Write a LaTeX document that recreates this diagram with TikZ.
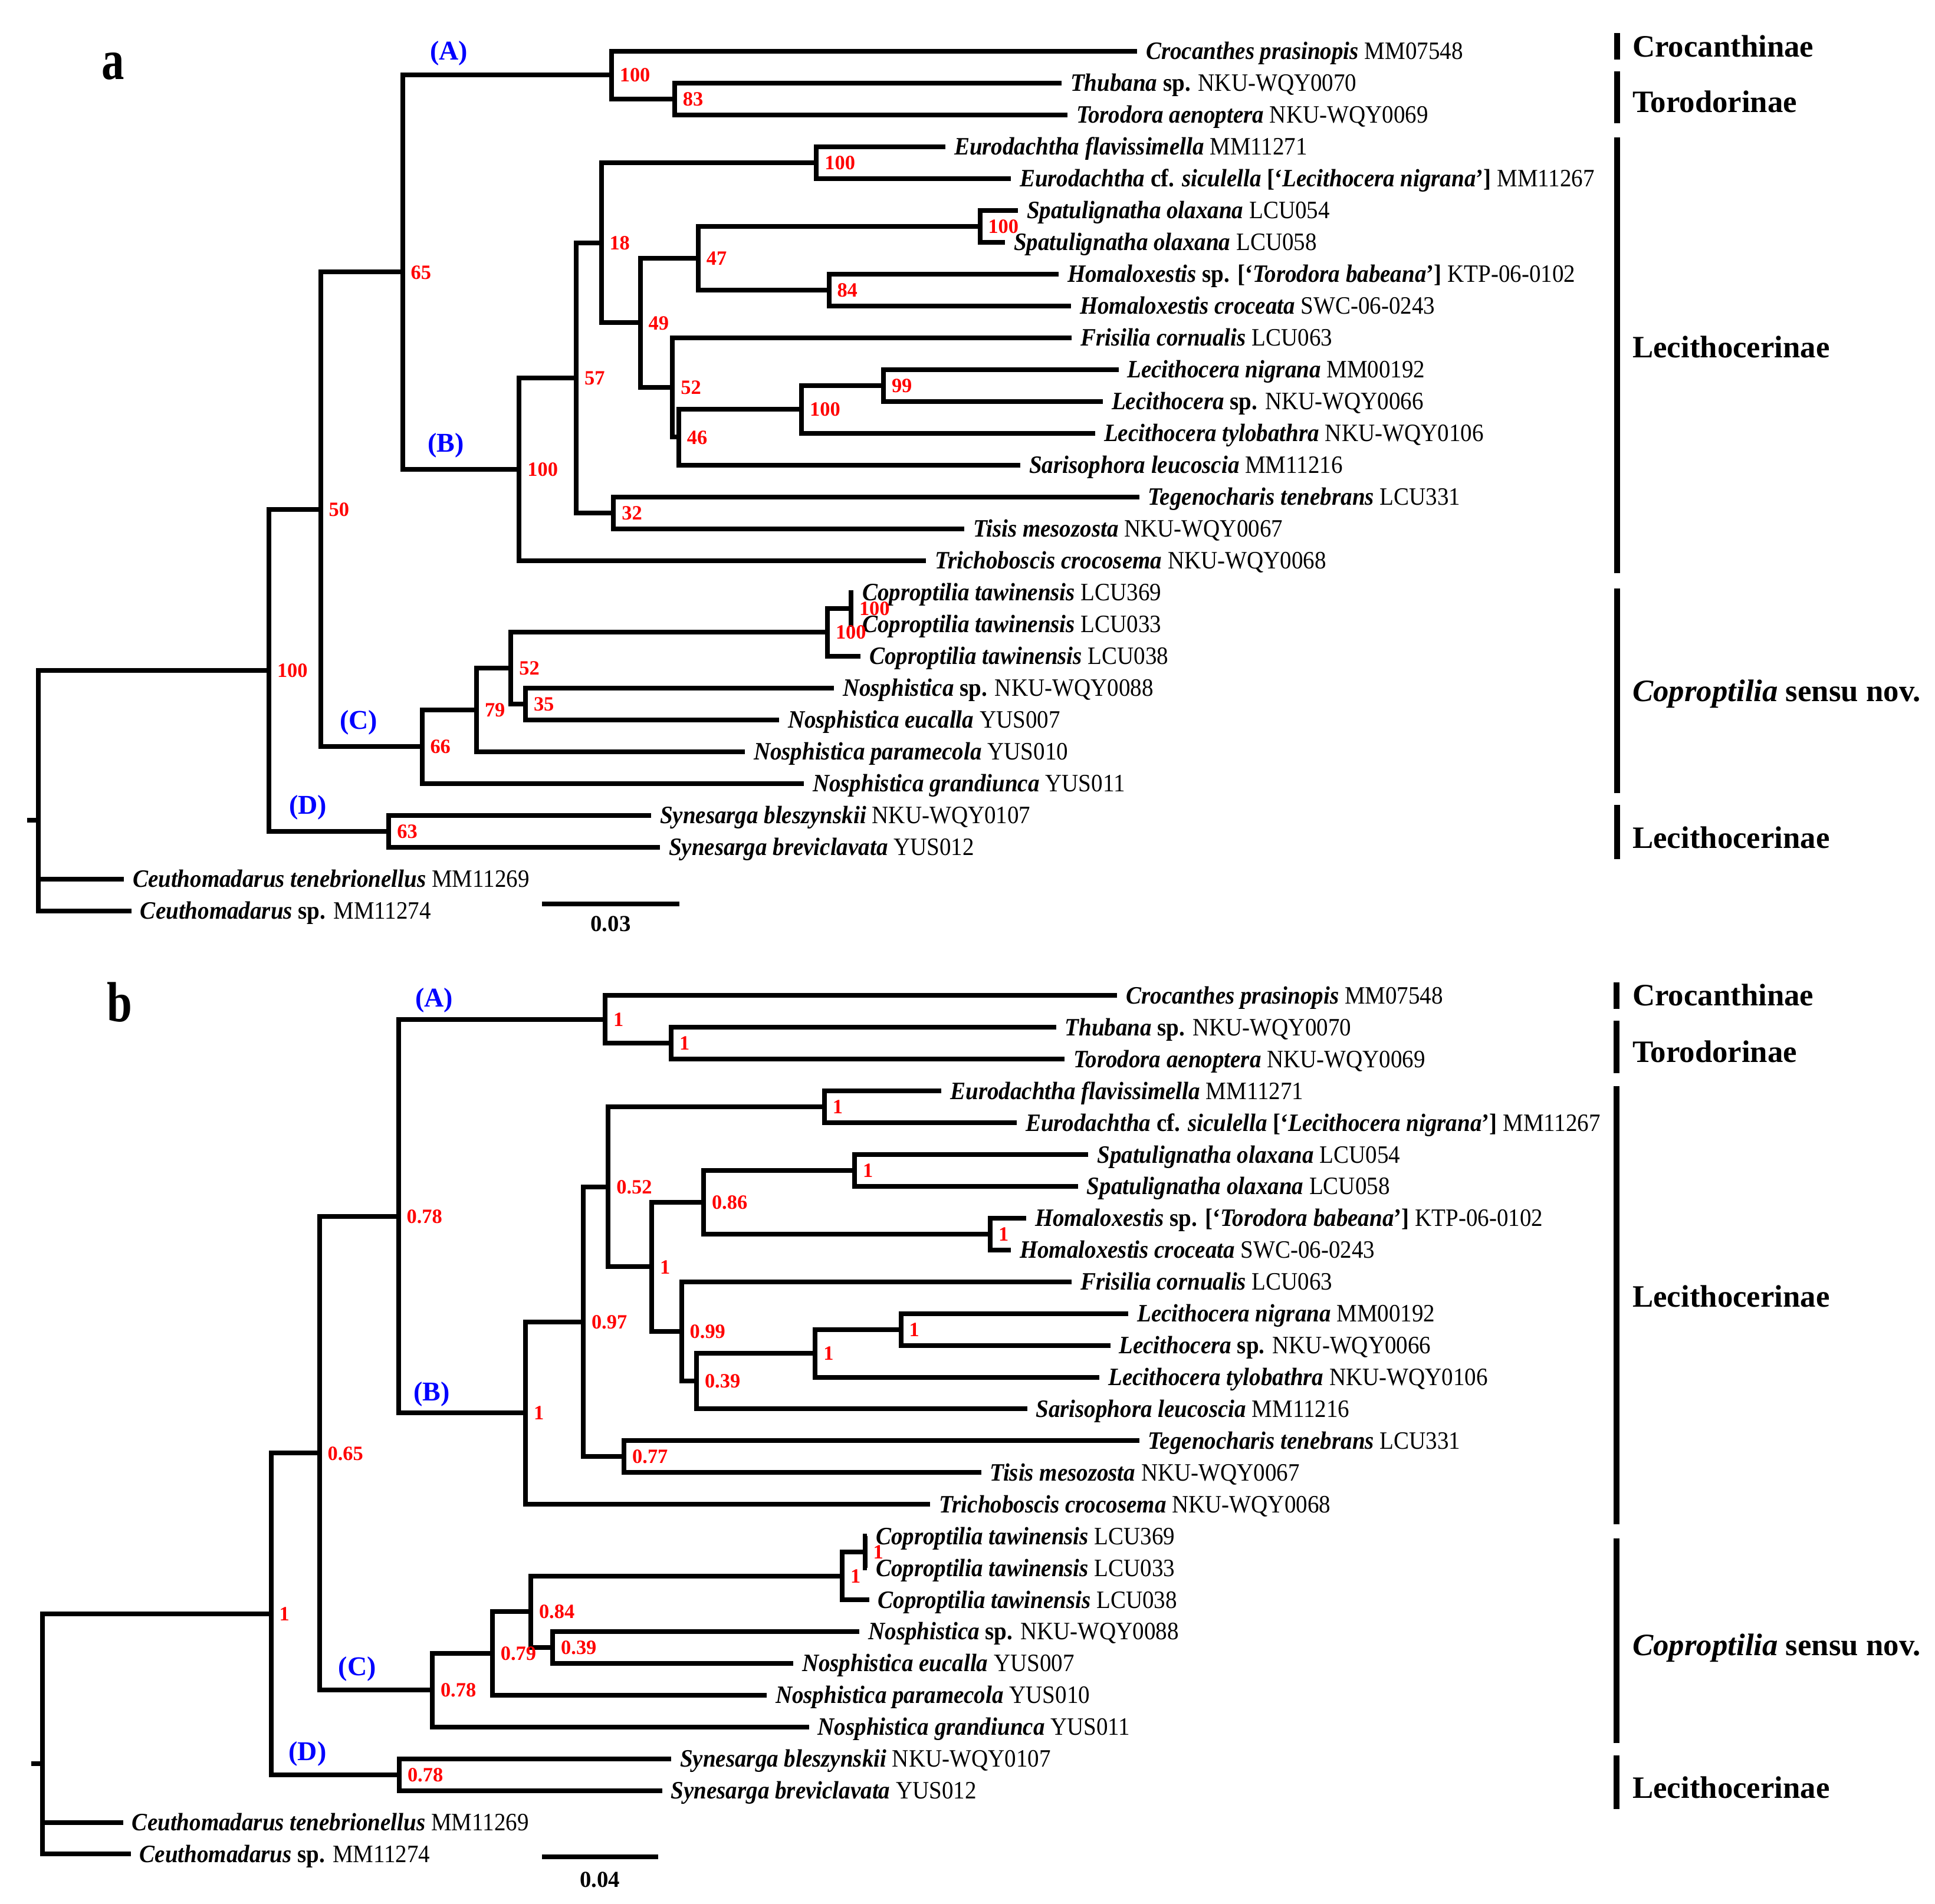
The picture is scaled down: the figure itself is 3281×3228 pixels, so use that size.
\documentclass[tikz,border=0pt]{standalone}
\usepackage{fontspec}
\setmainfont{Liberation Serif}
\newfontfamily\tallserif{Liberation Serif}[Ligatures=TeX, FakeStretch=0.92]
\newfontfamily\panelserif{Liberation Serif}[Ligatures=TeX, FakeStretch=0.8]
\usetikzlibrary{positioning}
\newcommand{\labelgap}{3.75pt}
\newcommand{\supportgap}{3.5pt}
\tikzstyle{branch}=[draw, line width=2pt, line join=miter]
\tikzstyle{taxon}=[inner sep=0, outer sep=0, text height=7pt, text depth=0pt,
                   font=\fontsize{10.6}{12}\tallserif\bfseries]
\tikzstyle{support}=[inner sep=0, outer sep=0, text height=5.8pt, text depth=0pt,
                     text=red, font=\fontsize{8.6}{10}\selectfont\bfseries]
\tikzstyle{clade}=[inner sep=0, text=blue, font=\fontsize{11.5}{13}\selectfont\bfseries]
\tikzstyle{group}=[inner sep=0, anchor=base west, font=\fontsize{13.2}{15}\selectfont\bfseries]
\tikzstyle{groupbar}=[draw, line width=2.6pt]
\tikzstyle{panel}=[inner sep=0, anchor=base west, font=\fontsize{24}{26}\panelserif\bfseries]
\tikzstyle{scalebar}=[draw, line width=2pt]
\tikzstyle{scalelabel}=[inner sep=0, anchor=base, font=\fontsize{9.7}{11}\selectfont\bfseries]

% Same topology in both panels; #1 is the panel prefix.
\newcommand{\treebranches}[1]{%
  \draw[branch] (#1Thub) -| (#1Tor) |- (#1Toro);
  \draw[branch] (#1Croc) -| (#1Acl) |- (#1Tor);
  \draw[branch] (#1Eufl) -| (#1Eur) |- (#1Eusi);
  \draw[branch] (#1Spa1) -| (#1Spa) |- (#1Spa2);
  \draw[branch] (#1Hosp) -| (#1Hom) |- (#1Hocr);
  \draw[branch] (#1Spa) -| (#1Hsp) |- (#1Hom);
  \draw[branch] (#1Leni) -| (#1Lpair) |- (#1Lesp);
  \draw[branch] (#1Lpair) -| (#1Lcl) |- (#1Lety);
  \draw[branch] (#1Lcl) -| (#1Lsub) |- (#1Sari);
  \draw[branch] (#1Fris) -| (#1Lec) |- (#1Lsub);
  \draw[branch] (#1Hsp) -| (#1Bmid) |- (#1Lec);
  \draw[branch] (#1Eur) -| (#1Bsub) |- (#1Bmid);
  \draw[branch] (#1Tege) -| (#1Teg) |- (#1Tisi);
  \draw[branch] (#1Bsub) -| (#1Bin) |- (#1Teg);
  \draw[branch] (#1Bin) -| (#1Bcl) |- (#1Tric);
  \draw[branch] (#1Acl) -| (#1AB) |- (#1Bcl);
  \draw[branch] (#1Cop1) -| (#1Cpair) |- (#1Cop2);
  \draw[branch] (#1Cpair) -| (#1Cop) |- (#1Cop3);
  \draw[branch] (#1Nosp) -| (#1Nos) |- (#1Euca);
  \draw[branch] (#1Cop) -| (#1Cmid) |- (#1Nos);
  \draw[branch] (#1Cmid) -| (#1Cin) |- (#1Para);
  \draw[branch] (#1Cin) -| (#1Ccl) |- (#1Gran);
  \draw[branch] (#1AB) -| (#1ABC) |- (#1Ccl);
  \draw[branch] (#1Bles) -| (#1Dcl) |- (#1Brev);
  \draw[branch] (#1ABC) -| (#1Ingr) |- (#1Dcl);
  \draw[branch] (#1Ingr) -| (#1Root) |- (#1Csp);
  \draw[branch] (#1Root) |- (#1Cten);
  \draw[branch] (#1Tick) -- (#1Root);
}

\newcommand{\taxonlabels}[1]{%
  \node[taxon, right=\labelgap of #1Croc] (#1CrocL) {\textit{Crocanthes prasinopis} \textmd{MM07548}};
  \node[taxon, right=\labelgap of #1Thub] (#1ThubL) {\textit{Thubana} sp. \textmd{NKU-WQY0070}};
  \node[taxon, right=\labelgap of #1Toro] (#1ToroL) {\textit{Torodora aenoptera} \textmd{NKU-WQY0069}};
  \node[taxon, right=\labelgap of #1Eufl] (#1EuflL) {\textit{Eurodachtha flavissimella} \textmd{MM11271}};
  \node[taxon, right=\labelgap of #1Eusi] (#1EusiL) {\textit{Eurodachtha} cf. \textit{siculella} [`\textit{Lecithocera nigrana}'] \textmd{MM11267}};
  \node[taxon, right=\labelgap of #1Spa1] (#1Spa1L) {\textit{Spatulignatha olaxana} \textmd{LCU054}};
  \node[taxon, right=\labelgap of #1Spa2] (#1Spa2L) {\textit{Spatulignatha olaxana} \textmd{LCU058}};
  \node[taxon, right=\labelgap of #1Hosp] (#1HospL) {\textit{Homaloxestis} sp. [`\textit{Torodora babeana}'] \textmd{KTP-06-0102}};
  \node[taxon, right=\labelgap of #1Hocr] (#1HocrL) {\textit{Homaloxestis croceata} \textmd{SWC-06-0243}};
  \node[taxon, right=\labelgap of #1Fris] (#1FrisL) {\textit{Frisilia cornualis} \textmd{LCU063}};
  \node[taxon, right=\labelgap of #1Leni] (#1LeniL) {\textit{Lecithocera nigrana} \textmd{MM00192}};
  \node[taxon, right=\labelgap of #1Lesp] (#1LespL) {\textit{Lecithocera} sp. \textmd{NKU-WQY0066}};
  \node[taxon, right=\labelgap of #1Lety] (#1LetyL) {\textit{Lecithocera tylobathra} \textmd{NKU-WQY0106}};
  \node[taxon, right=\labelgap of #1Sari] (#1SariL) {\textit{Sarisophora leucoscia} \textmd{MM11216}};
  \node[taxon, right=\labelgap of #1Tege] (#1TegeL) {\textit{Tegenocharis tenebrans} \textmd{LCU331}};
  \node[taxon, right=\labelgap of #1Tisi] (#1TisiL) {\textit{Tisis mesozosta} \textmd{NKU-WQY0067}};
  \node[taxon, right=\labelgap of #1Tric] (#1TricL) {\textit{Trichoboscis crocosema} \textmd{NKU-WQY0068}};
  \node[taxon, right=\labelgap of #1Cop1] (#1Cop1L) {\textit{Coproptilia tawinensis} \textmd{LCU369}};
  \node[taxon, right=\labelgap of #1Cop2] (#1Cop2L) {\textit{Coproptilia tawinensis} \textmd{LCU033}};
  \node[taxon, right=\labelgap of #1Cop3] (#1Cop3L) {\textit{Coproptilia tawinensis} \textmd{LCU038}};
  \node[taxon, right=\labelgap of #1Nosp] (#1NospL) {\textit{Nosphistica} sp. \textmd{NKU-WQY0088}};
  \node[taxon, right=\labelgap of #1Euca] (#1EucaL) {\textit{Nosphistica eucalla} \textmd{YUS007}};
  \node[taxon, right=\labelgap of #1Para] (#1ParaL) {\textit{Nosphistica paramecola} \textmd{YUS010}};
  \node[taxon, right=\labelgap of #1Gran] (#1GranL) {\textit{Nosphistica grandiunca} \textmd{YUS011}};
  \node[taxon, right=\labelgap of #1Bles] (#1BlesL) {\textit{Synesarga bleszynskii} \textmd{NKU-WQY0107}};
  \node[taxon, right=\labelgap of #1Brev] (#1BrevL) {\textit{Synesarga breviclavata} \textmd{YUS012}};
  \node[taxon, right=\labelgap of #1Cten] (#1CtenL) {\textit{Ceuthomadarus tenebrionellus} \textmd{MM11269}};
  \node[taxon, right=\labelgap of #1Csp] (#1CspL) {\textit{Ceuthomadarus} sp. \textmd{MM11274}};
}

\begin{document}
\begin{tikzpicture}[x=0.25pt, y=-0.25pt]
  \useasboundingbox[fill=white] (0,0) rectangle (3281,3228);

  % panel a, tips
  \coordinate (aCroc) at (1928, 86.7);
  \coordinate (aThub) at (1800, 140.7);
  \coordinate (aToro) at (1810, 194.7);
  \coordinate (aEufl) at (1603, 248.7);
  \coordinate (aEusi) at (1714, 302.7);
  \coordinate (aSpa1) at (1726, 356.7);
  \coordinate (aSpa2) at (1704, 410.7);
  \coordinate (aHosp) at (1795, 464.7);
  \coordinate (aHocr) at (1816, 518.7);
  \coordinate (aFris) at (1817, 572.7);
  \coordinate (aLeni) at (1896.5, 626.7);
  \coordinate (aLesp) at (1870, 680.7);
  \coordinate (aLety) at (1857, 734.7);
  \coordinate (aSari) at (1730, 788.7);
  \coordinate (aTege) at (1931.6, 842.7);
  \coordinate (aTisi) at (1635, 896.7);
  \coordinate (aTric) at (1570, 950.7);
  \coordinate (aCop1) at (1447, 1004.7);
  \coordinate (aCop2) at (1447, 1058.7);
  \coordinate (aCop3) at (1459, 1112.7);
  \coordinate (aNosp) at (1414, 1166.7);
  \coordinate (aEuca) at (1321, 1220.7);
  \coordinate (aPara) at (1263, 1274.7);
  \coordinate (aGran) at (1363, 1328.7);
  \coordinate (aBles) at (1104, 1382.7);
  \coordinate (aBrev) at (1119, 1436.7);
  \coordinate (aCten) at (210, 1490.7);
  \coordinate (aCsp) at (223, 1544.7);
  % panel a, inner nodes
  \coordinate (aTor) at (1143.8, 167.7);
  \coordinate (aAcl) at (1036.8, 127.2);
  \coordinate (aEur) at (1384.4, 275.7);
  \coordinate (aSpa) at (1661.5, 383.7);
  \coordinate (aHom) at (1405.5, 491.7);
  \coordinate (aHsp) at (1183.8, 437.7);
  \coordinate (aLpair) at (1498, 653.7);
  \coordinate (aLcl) at (1359.2, 694.2);
  \coordinate (aLsub) at (1150.8, 741.45);
  \coordinate (aLec) at (1140.3, 657.1);
  \coordinate (aBmid) at (1085.6, 547.4);
  \coordinate (aBsub) at (1019.5, 411.55);
  \coordinate (aTeg) at (1040.4, 869.7);
  \coordinate (aBin) at (977.2, 640.6);
  \coordinate (aBcl) at (880.4, 795.65);
  \coordinate (aAB) at (682.6, 461.4);
  \coordinate (aCpair) at (1443, 1031.7);
  \coordinate (aCop) at (1403, 1072.2);
  \coordinate (aNos) at (891, 1193.7);
  \coordinate (aCmid) at (866.4, 1132.95);
  \coordinate (aCin) at (808, 1203.8);
  \coordinate (aCcl) at (715.5, 1266.25);
  \coordinate (aABC) at (543.7, 863.8);
  \coordinate (aDcl) at (659.4, 1409.7);
  \coordinate (aIngr) at (456, 1136.75);
  \coordinate (aRoot) at (64.5, 1390.7);
  \coordinate (aTick) at (45.6, 1390.7);

  % panel b, tips
  \coordinate (bCroc) at (1894.4, 1688.3);
  \coordinate (bThub) at (1790.6, 1742.2);
  \coordinate (bToro) at (1805.3, 1796.2);
  \coordinate (bEufl) at (1596.3, 1850.1);
  \coordinate (bEusi) at (1724, 1904.0);
  \coordinate (bSpa1) at (1845.3, 1958.0);
  \coordinate (bSpa2) at (1827.8, 2011.9);
  \coordinate (bHosp) at (1740, 2065.8);
  \coordinate (bHocr) at (1714, 2119.7);
  \coordinate (bFris) at (1817.3, 2173.7);
  \coordinate (bLeni) at (1913.4, 2227.6);
  \coordinate (bLesp) at (1882.5, 2281.5);
  \coordinate (bLety) at (1864.3, 2335.5);
  \coordinate (bSari) at (1741.5, 2389.4);
  \coordinate (bTege) at (1931.6, 2443.3);
  \coordinate (bTisi) at (1663.6, 2497.3);
  \coordinate (bTric) at (1577.3, 2551.2);
  \coordinate (bCop1) at (1470, 2605.1);
  \coordinate (bCop2) at (1470, 2659.0);
  \coordinate (bCop3) at (1473.5, 2713.0);
  \coordinate (bNosp) at (1457.4, 2766.9);
  \coordinate (bEuca) at (1345, 2820.8);
  \coordinate (bPara) at (1300, 2874.8);
  \coordinate (bGran) at (1371.8, 2928.7);
  \coordinate (bBles) at (1138.2, 2982.6);
  \coordinate (bBrev) at (1122.8, 3036.6);
  \coordinate (bCten) at (209, 3090.5);
  \coordinate (bCsp) at (221.7, 3144.4);
  % panel b, inner nodes
  \coordinate (bTor) at (1138.2, 1769.2);
  \coordinate (bAcl) at (1026, 1728.75);
  \coordinate (bEur) at (1397.8, 1877.05);
  \coordinate (bSpa) at (1449, 1984.95);
  \coordinate (bHom) at (1679, 2092.75);
  \coordinate (bHsp) at (1193, 2038.85);
  \coordinate (bLpair) at (1527.5, 2254.55);
  \coordinate (bLcl) at (1382.3, 2295.0);
  \coordinate (bLsub) at (1181, 2342.2);
  \coordinate (bLec) at (1155.7, 2257.95);
  \coordinate (bBmid) at (1105.2, 2148.4);
  \coordinate (bBsub) at (1031.4, 2012.7);
  \coordinate (bTeg) at (1058.2, 2470.3);
  \coordinate (bBin) at (989, 2241.5);
  \coordinate (bBcl) at (891, 2396.35);
  \coordinate (bAB) at (675.6, 2062.55);
  \coordinate (bCpair) at (1466.5, 2632.05);
  \coordinate (bCop) at (1428, 2672.5);
  \coordinate (bNos) at (937.2, 2793.85);
  \coordinate (bCmid) at (900, 2733.2);
  \coordinate (bCin) at (834.8, 2804);
  \coordinate (bCcl) at (733, 2866.35);
  \coordinate (bABC) at (541.6, 2464.45);
  \coordinate (bDcl) at (677, 3009.6);
  \coordinate (bIngr) at (459.5, 2737.0);
  \coordinate (bRoot) at (71.6, 2990.6);
  \coordinate (bTick) at (53.3, 2990.6);

  \treebranches{a}
  \treebranches{b}
  \taxonlabels{a}
  \taxonlabels{b}

  % support values, panel a
  \node[support, right=\supportgap of aAcl] (aAclS) {100};
  \node[support, right=\supportgap of aTor] (aTorS) {83};
  \node[support, right=\supportgap of aEur] (aEurS) {100};
  \node[support, right=\supportgap of aBsub] (aBsubS) {18};
  \node[support, right=\supportgap of aHsp] (aHspS) {47};
  \node[support, right=\supportgap of aSpa] (aSpaS) {100};
  \node[support, right=\supportgap of aHom] (aHomS) {84};
  \node[support, right=\supportgap of aBmid] (aBmidS) {49};
  \node[support, right=\supportgap of aLec] (aLecS) {52};
  \node[support, right=\supportgap of aLpair] (aLpairS) {99};
  \node[support, right=\supportgap of aLcl] (aLclS) {100};
  \node[support, right=\supportgap of aLsub] (aLsubS) {46};
  \node[support, right=\supportgap of aBin] (aBinS) {57};
  \node[support, right=\supportgap of aBcl] (aBclS) {100};
  \node[support, right=\supportgap of aTeg] (aTegS) {32};
  \node[support, right=\supportgap of aAB] (aABS) {65};
  \node[support, right=\supportgap of aABC] (aABCS) {50};
  \node[support, right=\supportgap of aIngr] (aIngrS) {100};
  \node[support, right=\supportgap of aCpair] (aCpairS) {100};
  \node[support, right=\supportgap of aCop] (aCopS) {100};
  \node[support, right=\supportgap of aCmid] (aCmidS) {52};
  \node[support, right=\supportgap of aNos] (aNosS) {35};
  \node[support, right=\supportgap of aCin] (aCinS) {79};
  \node[support, right=\supportgap of aCcl] (aCclS) {66};
  \node[support, right=\supportgap of aDcl] (aDclS) {63};

  % support values, panel b
  \node[support, right=\supportgap of bAcl] (bAclS) {1};
  \node[support, right=\supportgap of bTor] (bTorS) {1};
  \node[support, right=\supportgap of bEur] (bEurS) {1};
  \node[support, right=\supportgap of bBsub] (bBsubS) {0.52};
  \node[support, right=\supportgap of bHsp] (bHspS) {0.86};
  \node[support, right=\supportgap of bSpa] (bSpaS) {1};
  \node[support, right=\supportgap of bHom] (bHomS) {1};
  \node[support, right=\supportgap of bBmid] (bBmidS) {1};
  \node[support, right=\supportgap of bLec] (bLecS) {0.99};
  \node[support, right=\supportgap of bLpair] (bLpairS) {1};
  \node[support, right=\supportgap of bLcl] (bLclS) {1};
  \node[support, right=\supportgap of bLsub] (bLsubS) {0.39};
  \node[support, right=\supportgap of bBin] (bBinS) {0.97};
  \node[support, right=\supportgap of bBcl] (bBclS) {1};
  \node[support, right=\supportgap of bTeg] (bTegS) {0.77};
  \node[support, right=\supportgap of bAB] (bABS) {0.78};
  \node[support, right=\supportgap of bABC] (bABCS) {0.65};
  \node[support, right=\supportgap of bIngr] (bIngrS) {1};
  \node[support, right=\supportgap of bCpair] (bCpairS) {1};
  \node[support, right=\supportgap of bCop] (bCopS) {1};
  \node[support, right=\supportgap of bCmid] (bCmidS) {0.84};
  \node[support, right=\supportgap of bNos] (bNosS) {0.39};
  \node[support, right=\supportgap of bCin] (bCinS) {0.79};
  \node[support, right=\supportgap of bCcl] (bCclS) {0.78};
  \node[support, right=\supportgap of bDcl] (bDclS) {0.78};

  % clade letters
  \node[clade] (aCladeA) at (761, 90) {(A)};
  \node[clade] (aCladeB) at (756, 755) {(B)};
  \node[clade] (aCladeC) at (608, 1225.7) {(C)};
  \node[clade] (aCladeD) at (522, 1369) {(D)};
  \node[clade] (bCladeA) at (736, 1696) {(A)};
  \node[clade] (bCladeB) at (731.7, 2364) {(B)};
  \node[clade] (bCladeC) at (605.7, 2830.6) {(C)};
  \node[clade] (bCladeD) at (521.6, 2974) {(D)};

  % panel letters
  \node[panel] (aPanel) at (172, 134) {a};
  \node[panel] (bPanel) at (181, 1732.8) {b};

  % scale bars
  \draw[scalebar] (919, 1533) -- (1152, 1533);
  \node[scalelabel] (aScale) at (1035.5, 1579) {0.03};
  \draw[scalebar] (919, 3148.8) -- (1115.7, 3148.8);
  \node[scalelabel] (bScale) at (1017, 3200) {0.04};

  % subfamily bars, panel a
  \draw[groupbar] (2742, 56) -- (2742, 101);
  \draw[groupbar] (2742, 121) -- (2742, 209);
  \draw[groupbar] (2742, 233) -- (2742, 972);
  \draw[groupbar] (2742, 997.7) -- (2742, 1344.6);
  \draw[groupbar] (2742, 1365) -- (2742, 1457);
  \node[group] (aCrocG) at (2767.5, 96) {Crocanthinae};
  \node[group] (aToroG) at (2767.5, 190) {Torodorinae};
  \node[group] (aLeciG) at (2767.5, 606) {Lecithocerinae};
  \node[group] (aCoprG) at (2767.5, 1189) {\textit{Coproptilia} sensu nov.};
  \node[group] (aSyneG) at (2767.5, 1438) {Lecithocerinae};

  % subfamily bars, panel b
  \draw[groupbar] (2741, 1666) -- (2741, 1711);
  \draw[groupbar] (2741, 1731) -- (2741, 1819.5);
  \draw[groupbar] (2741, 1842) -- (2741, 2585);
  \draw[groupbar] (2741, 2608.6) -- (2741, 2955.5);
  \draw[groupbar] (2741, 2976.6) -- (2741, 3068);
  \node[group] (bCrocG) at (2767.5, 1705.7) {Crocanthinae};
  \node[group] (bToroG) at (2767.5, 1801.6) {Torodorinae};
  \node[group] (bLeciG) at (2767.5, 2216) {Lecithocerinae};
  \node[group] (bCoprG) at (2767.5, 2807) {\textit{Coproptilia} sensu nov.};
  \node[group] (bSyneG) at (2767.5, 3049.5) {Lecithocerinae};
\end{tikzpicture}
\end{document}
